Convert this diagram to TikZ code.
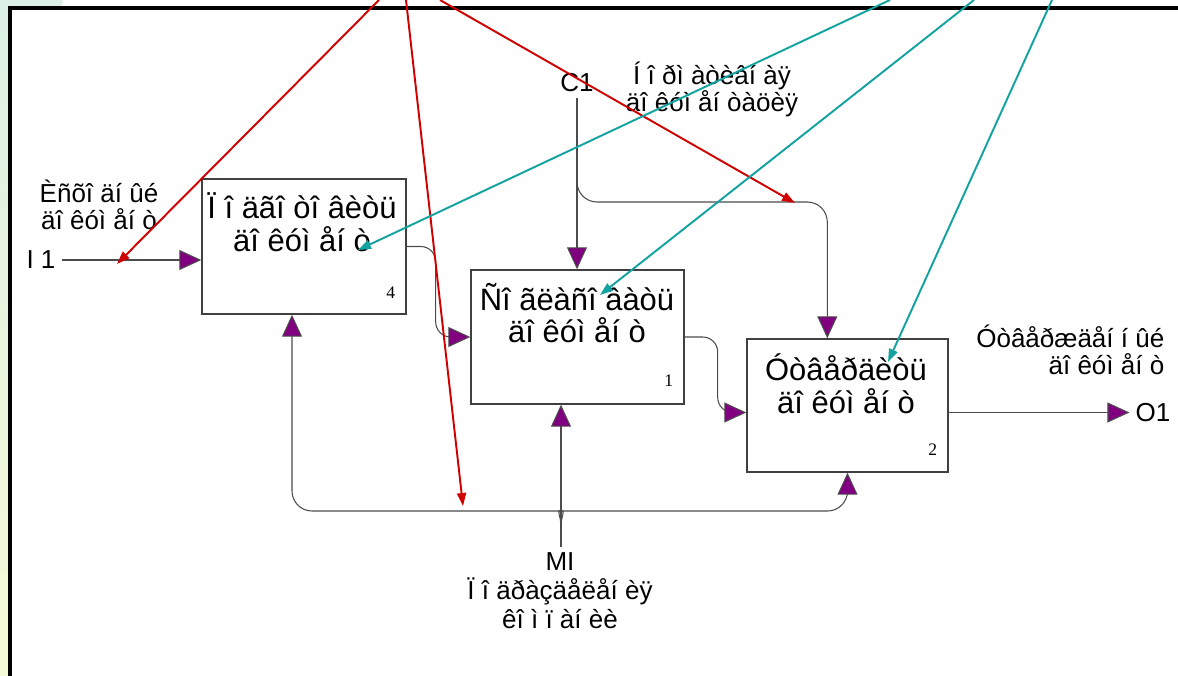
\documentclass[tikz,border=0pt]{standalone}
\usepackage{fontspec}
\setmainfont{Liberation Sans}
\newfontfamily\numfont{Liberation Serif}
\usepackage{tikz}
\usetikzlibrary{arrows.meta, calc, positioning}

\definecolor{idefpurple}{HTML}{800080}
\definecolor{linkred}{HTML}{D00000}
\definecolor{linkteal}{HTML}{12A2A0}
\definecolor{framegray}{HTML}{404040}
\definecolor{stripmint}{HTML}{DDF0E6}
\definecolor{stripyellow}{HTML}{F5FAD6}

\begin{document}
\begin{tikzpicture}[
		func/.style={draw=framegray, line width=0.8pt, minimum height=2.68cm, inner sep=0pt},
		functxt/.style={font=\fontsize{17.6}{18.5}\selectfont, align=center, inner sep=0pt},
		lbl/.style={font=\fontsize{14.8}{15.4}\selectfont, align=center},
		num/.style={font=\numfont\fontsize{10}{12}\selectfont, inner sep=0pt},
		flow/.style={draw=black!70, line width=0.6pt, -{Triangle[length=0.44cm,width=0.40cm,fill=idefpurple]}},
		link/.style={line width=1.1pt, -{Triangle[length=0.26cm,width=0.18cm]}}
	]
		\useasboundingbox (0,0) rectangle (23.56,13.5);
		% sheet edge
		\shade[top color=stripmint, bottom color=stripyellow] (0,0) rectangle (0.2,13.5);
		\fill[stripmint, rounded corners=0.15cm] (0,13.3) rectangle (1.25,13.7);
		\draw[line width=1.9pt] (0.2,-0.2) -- (0.2,13.34) -- (23.8,13.34);
		
		% function boxes
		\node[func, minimum width=4.08cm, minimum height=2.70cm] (b4) at (6.08,8.57) {};
		\node[func, minimum width=4.26cm] (b1) at (11.55,6.76) {};
		\node[func, minimum width=4.02cm, minimum height=2.66cm] (b2) at (16.95,5.39) {};
		\node[functxt] (b4t) at (6.04,9.06) {Ï î äãî òî âèòü\\äî êóì åí ò};
		\node[functxt] (b1t) at (11.54,7.24) {Ñî ãëàñî âàòü\\äî êóì åí ò};
		\node[functxt] (b2t) at (16.92,5.83) {Óòâåðäèòü\\äî êóì åí ò};
		\node[num] (b4n) at ($(b4.south east)+(-0.32,0.44)$) {4};
		\node[num] (b1n) at ($(b1.south east)+(-0.32,0.48)$) {1};
		\node[num] (b2n) at ($(b2.south east)+(-0.32,0.46)$) {2};
		
		% arrow labels
		\node[lbl] (I1) at (0.82,8.30) {I 1};
		\node[lbl] (inlbl) at (1.98,9.40) {Èñõî äí ûé\\äî êóì åí ò};
		\node[lbl] (C1) at (11.54,11.84) {C1};
		\node[lbl] (ctrllbl) at (14.24,11.72) {Í î ðì àòèâí àÿ\\äî êóì åí òàöèÿ};
		\node[lbl, align=right, anchor=east] (outlbl) at (23.41,6.50) {Óòâåðæäåí í ûé\\äî êóì åí ò};
		\node[lbl] (O1) at (23.06,5.25) {O1};
		\node[lbl, font=\fontsize{14.8}{16.4}\selectfont, anchor=north] (M1) at (11.20,2.57) {MI\\Ï î äðàçäåëåí èÿ\\êî ì ï àí èè};
		
		% input, control, output
		\draw[flow] (I1.east) -- (I1.east -| b4.west);
		\draw[flow] (C1.south) -- (C1.south |- b1.north);
		\coordinate (cj) at (11.54,9.46);
		\coordinate (c2) at ($(b2.north west)+(1.62,0)$);
		\draw[flow, rounded corners=0.4cm] ($(cj)+(0,0.6)$) -- (cj) -- (cj -| c2) -- (c2);
		\draw[flow] (O1.west -| b2.east) -- (O1.west);
		
		% box to box
		\draw[flow, rounded corners=0.3cm] (b4.east) -- ++(0.58,0) |- (b1.west);
		\draw[flow, rounded corners=0.3cm] (b1.east) -- ++(0.66,0) |- ([yshift=-0.14cm]b2.west);
		
		% mechanism, split like a brace
		\coordinate (mj) at (11.22,3.28);
		\coordinate (m4) at ($(b4.south)+(-0.24,0)$);
		\draw[flow] (M1.north -| mj) -- (mj |- b1.south);
		\draw[flow, rounded corners=0.4cm] ($(mj)+(0,-0.32)$) .. controls ($(mj)+(0,-0.08)$) and ($(mj)+(-0.1,0)$) .. ($(mj)+(-0.4,0)$) -- (mj -| m4) -- (m4);
		\draw[flow, rounded corners=0.4cm] ($(mj)+(0,-0.32)$) .. controls ($(mj)+(0,-0.08)$) and ($(mj)+(0.1,0)$) .. ($(mj)+(0.4,0)$) -- (mj -| b2.south) -- (b2.south);
		
		% red links
		\coordinate (r1) at (7.58,13.5); \coordinate (r1e) at (2.34,8.22);
		\coordinate (r2) at (8.12,13.5); \coordinate (r2e) at (9.26,3.38);
		\coordinate (r3) at (8.80,13.5); \coordinate (r3e) at (15.90,9.44);
		\draw[link, linkred] (r1) -- (r1e);
		\draw[link, linkred] (r2) -- (r2e);
		\draw[link, linkred] (r3) -- (r3e);
		
		% teal links
		\coordinate (t1) at (17.80,13.5); \coordinate (t1e) at (7.16,8.50);
		\coordinate (t2) at (19.48,13.5); \coordinate (t2e) at (12.00,7.60);
		\coordinate (t3) at (21.04,13.5); \coordinate (t3e) at (17.76,6.26);
		\draw[link, linkteal] (t1) -- (t1e);
		\draw[link, linkteal] (t2) -- (t2e);
		\draw[link, linkteal] (t3) -- (t3e);
	\end{tikzpicture}
\end{document}
